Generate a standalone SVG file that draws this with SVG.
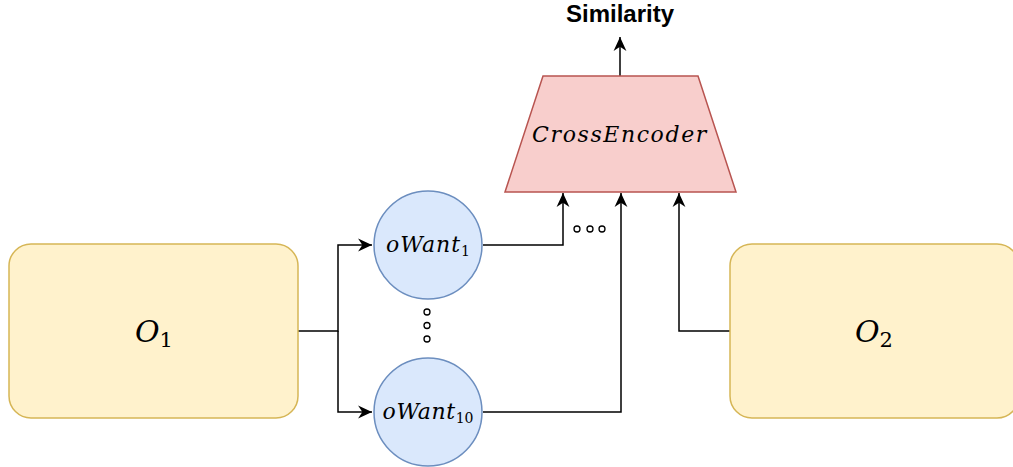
<svg xmlns="http://www.w3.org/2000/svg" width="1013" height="467" viewBox="0 0 1013 467">
  <defs>
    <style>
      .box { fill: #fff2cc; stroke: #d6b656; stroke-width: 1.5; }
      .enc { fill: #f8cecc; stroke: #b85450; stroke-width: 1.5; }
      .ball { fill: #dae8fc; stroke: #6c8ebf; stroke-width: 1.5; }
      .wire { fill: none; stroke: #000; stroke-width: 1.5; }
      .dot { fill: #fff; stroke: #000; stroke-width: 1.3; }
      .math { font-family: "DejaVu Serif", "Liberation Serif", serif; font-style: italic; fill: #000; }
      .sub { font-style: normal; letter-spacing: 0; }
      .lbl { font-family: "Liberation Sans", Arial, sans-serif; font-weight: bold; font-size: 24px; fill: #000; }
    </style>
    <marker id="arrow" viewBox="0 0 14 14" refX="13" refY="7" markerWidth="15" markerHeight="15" markerUnits="userSpaceOnUse" orient="auto">
      <path d="M0,1 L13,7 L0,13 L4,7 Z" fill="#000"/>
    </marker>
  </defs>

  <!-- connectors -->
  <g id="connectors">
    <polyline class="wire" points="298,331 338,331 338,245 372,245" marker-end="url(#arrow)"/>
    <polyline class="wire" points="338,331 338,412 372,412" marker-end="url(#arrow)"/>
    <polyline class="wire" points="483,245 563,245 563,193" marker-end="url(#arrow)"/>
    <polyline class="wire" points="483,412 621,412 621,193" marker-end="url(#arrow)"/>
    <polyline class="wire" points="730,331 679,331 679,193" marker-end="url(#arrow)"/>
    <line class="wire" x1="620" y1="76" x2="620" y2="37" marker-end="url(#arrow)"/>
  </g>

  <!-- input O1 -->
  <g id="o1">
    <rect class="box" x="9" y="244" width="289" height="174" rx="22"/>
    <text class="math" x="154" y="342" text-anchor="middle" font-size="30">O<tspan class="sub" font-size="21" dy="5">1</tspan></text>
  </g>

  <!-- input O2 -->
  <g id="o2">
    <rect class="box" x="730" y="244" width="289" height="174" rx="22"/>
    <text class="math" x="874" y="342" text-anchor="middle" font-size="30">O<tspan class="sub" font-size="21" dy="5">2</tspan></text>
  </g>

  <!-- oWant nodes -->
  <g id="owant1">
    <circle class="ball" cx="428" cy="245" r="54"/>
    <text class="math" x="428" y="252" text-anchor="middle" font-size="22" letter-spacing="1">oWant<tspan class="sub" font-size="14" dy="4">1</tspan></text>
  </g>
  <g id="owant10">
    <circle class="ball" cx="428" cy="412" r="54"/>
    <text class="math" x="428" y="419" text-anchor="middle" font-size="22" letter-spacing="0.6">oWant<tspan class="sub" font-size="14" dy="4">10</tspan></text>
  </g>

  <!-- ellipsis between oWant nodes -->
  <g id="vdots">
    <circle class="dot" cx="427" cy="312" r="3"/>
    <circle class="dot" cx="427" cy="325.5" r="3"/>
    <circle class="dot" cx="427" cy="339" r="3"/>
  </g>
  <g id="hdots">
    <circle class="dot" cx="577" cy="229" r="3"/>
    <circle class="dot" cx="590" cy="229" r="3"/>
    <circle class="dot" cx="602" cy="229" r="3"/>
  </g>

  <!-- cross encoder -->
  <g id="crossencoder">
    <polygon class="enc" points="543,76 698,76 736,192 505,192"/>
    <text class="math" x="620" y="142" text-anchor="middle" font-size="22" letter-spacing="1.6">CrossEncoder</text>
  </g>

  <!-- output -->
  <g id="similarity">
    <text class="lbl" x="620" y="22" text-anchor="middle">Similarity</text>
  </g>
</svg>
